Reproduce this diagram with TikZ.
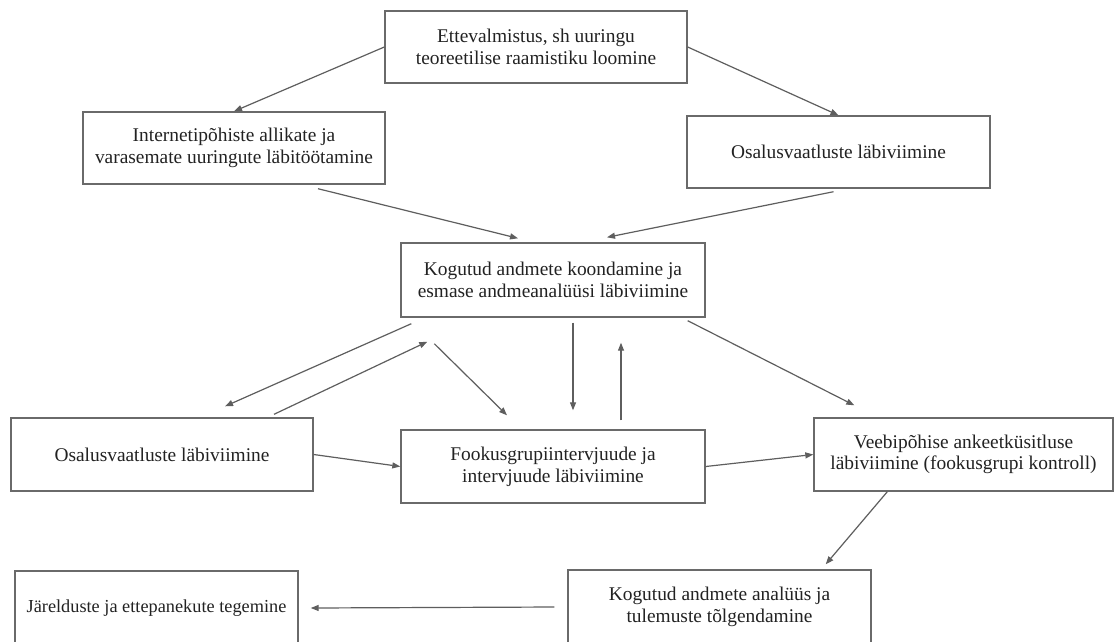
\documentclass[tikz,border=0pt]{standalone}
\usepackage{fontspec}
\setmainfont{Liberation Serif}
\usetikzlibrary{arrows.meta}
\definecolor{edgegray}{HTML}{5E5E5E}
\definecolor{boxgray}{HTML}{6A6A6A}
\definecolor{txt}{HTML}{222222}
\begin{document}
\begin{tikzpicture}[x=1pt,y=-1pt,
  stepbox/.style={draw=boxgray,line width=1.4pt,fill=white,inner sep=0pt,
    align=center,text=txt,font=\fontsize{19.4}{21.7}\selectfont,
    minimum height=72pt},
  arr/.style={draw=edgegray,line width=1.2pt,
    -{Triangle[length=8pt,width=6pt]}}]
\useasboundingbox[fill=white] (0,0) rectangle (1115,641);

% process steps
\node[stepbox,minimum width=302pt] (prep) at (536,47)
  {Ettevalmistus, sh uuringu\\teoreetilise raamistiku loomine};
\node[stepbox,minimum width=302pt] (inet) at (234,148)
  {Internetipõhiste allikate ja\\varasemate uuringute läbitöötamine};
\node[stepbox,minimum width=303pt] (obsA) at (838.5,152)
  {Osalusvaatluste läbiviimine};
\node[stepbox,minimum width=304pt,minimum height=74pt] (merge) at (553,280)
  {Kogutud andmete koondamine ja\\esmase andmeanalüüsi läbiviimine};
\node[stepbox,minimum width=302pt,minimum height=73pt] (obsB) at (162,454.5)
  {Osalusvaatluste läbiviimine};
\node[stepbox,minimum width=304pt,minimum height=73pt] (focus) at (553,466.5)
  {Fookusgrupiintervjuude ja\\intervjuude läbiviimine};
\node[stepbox,minimum width=299pt,minimum height=73pt] (web) at (963.5,454.5)
  {Veebipõhise ankeetküsitluse\\läbiviimine (fookusgrupi kontroll)};
\node[stepbox,minimum width=303pt,minimum height=74pt] (analysis) at (719.5,607)
  {Kogutud andmete analüüs ja\\tulemuste tõlgendamine};
\node[stepbox,minimum width=283pt,minimum height=74pt,
  font=\fontsize{18.3}{21.7}\selectfont] (concl) at (156.5,608)
  {Järelduste ja ettepanekute tegemine};

% connectors
\draw[arr] (prep.west) -- (inet.north);
\draw[arr] (prep.east) -- (obsA.north);
\draw[arr] ([shift={(84,4)}]inet.south) -- ([shift={(-35,-4)}]merge.north);
\draw[arr] ([shift={(-5,3)}]obsA.south) -- ([shift={(54,-5)}]merge.north);
\draw[arr] ([shift={(11,6)}]merge.south west) -- ([shift={(63,-11)}]obsB.north);
\draw[arr] ([shift={(112,-3)}]obsB.north) -- ([shift={(27,24)}]merge.south west);
\draw[arr] ([shift={(34,26)}]merge.south west) -- ([shift={(-46,-14)}]focus.north);
\draw[arr] ([shift={(20,5)}]merge.south) -- ([shift={(20,-19)}]focus.north);
\draw[arr] ([shift={(68,-9)}]focus.north) -- ([shift={(68,25)}]merge.south);
\draw[arr] ([shift={(-18,3)}]merge.south east) -- ([shift={(41,-12)}]web.north west);
\draw[arr] (obsB.east) -- (focus.west);
\draw[arr] (focus.east) -- (web.west);
\draw[arr] ([shift={(74,0)}]web.south west) -- ([shift={(-46,-5)}]analysis.north east);
\draw[arr] ([shift={(-13,0)}]analysis.west) -- ([shift={(12,0)}]concl.east);
\end{tikzpicture}
\end{document}
